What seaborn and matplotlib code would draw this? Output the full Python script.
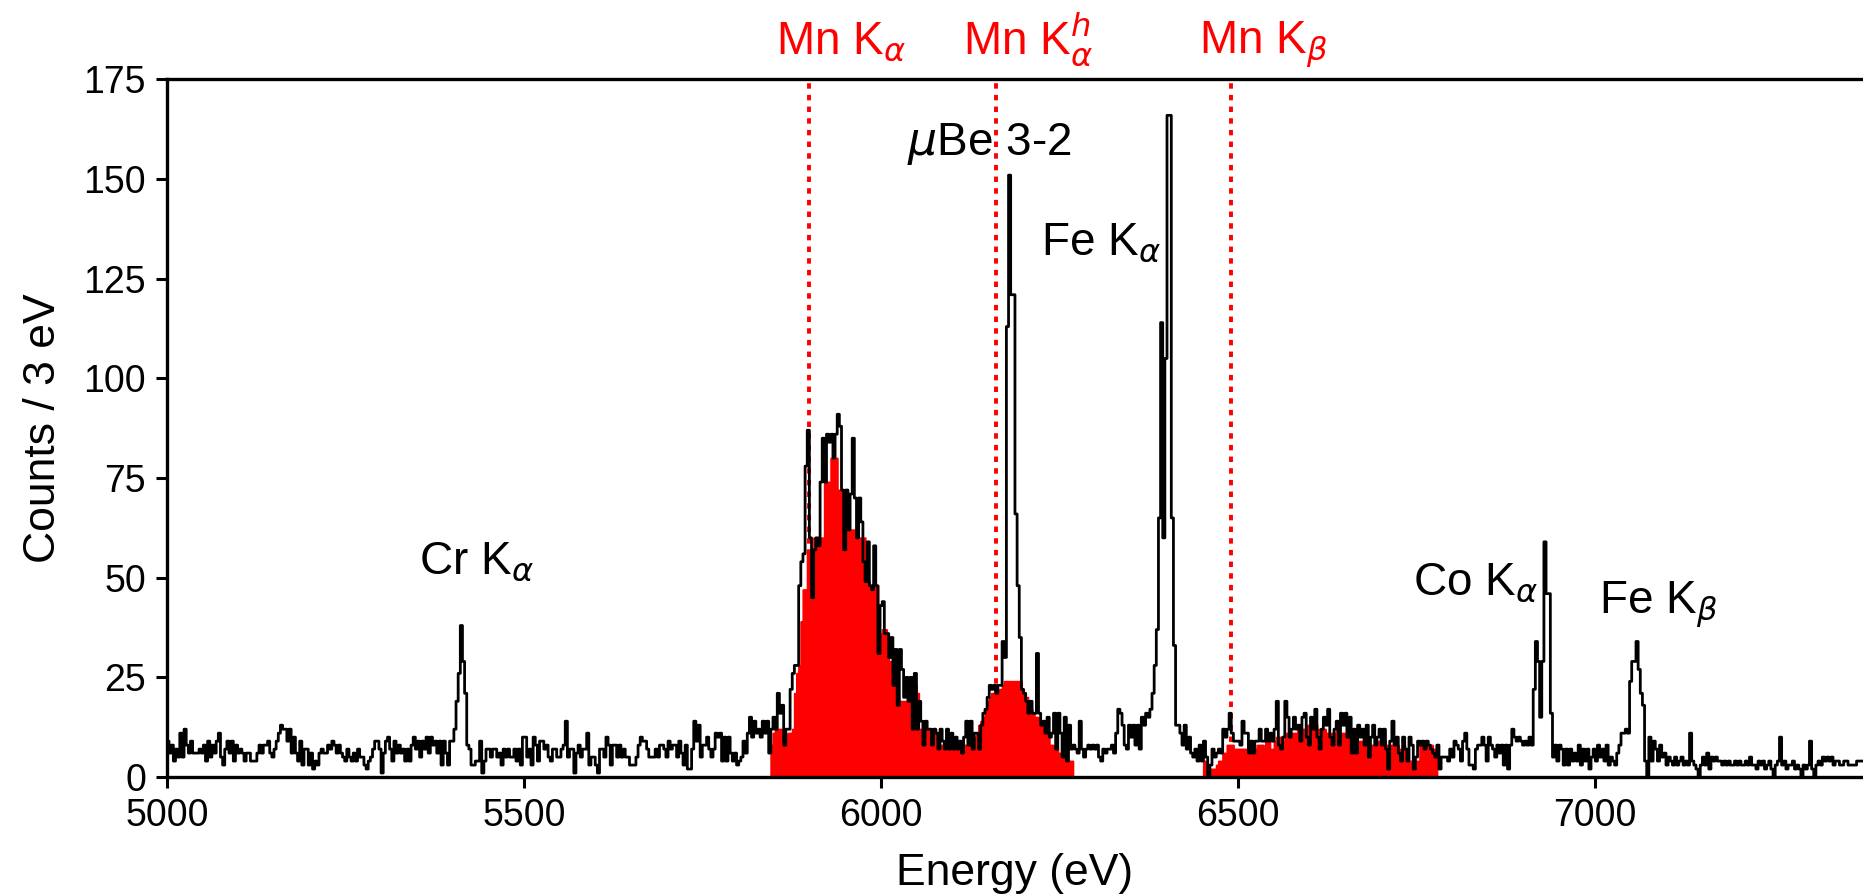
import numpy as np
import pandas as pd
import matplotlib
matplotlib.use("Agg")
import matplotlib.pyplot as plt
import seaborn as sns

# ---------------------------------------------------------------------------
# Spectrum: counts in 3 eV bins starting at 5000 eV (each row = 30 eV)
# ---------------------------------------------------------------------------
BIN_WIDTH = 3.0
E_START = 5000.0

counts_5000_5300 = [
    9, 6, 8, 4, 7, 5, 11, 5, 12, 8,
    6, 9, 6, 6, 6, 7, 6, 8, 4, 9,
    5, 8, 6, 9, 11, 5, 3, 7, 9, 6,
    9, 4, 8, 6, 7, 6, 4, 6, 6, 4,
    4, 4, 6, 8, 6, 8, 8, 9, 6, 5,
    7, 9, 11, 13, 12, 12, 9, 12, 6, 10,
    6, 4, 9, 3, 7, 7, 3, 6, 2, 4,
    3, 6, 7, 6, 6, 8, 7, 9, 8, 6,
    8, 6, 5, 4, 7, 5, 4, 6, 4, 7,
    5, 5, 3, 2, 4, 5, 7, 9, 9, 7,
]
counts_5300_5600 = [
    1, 6, 9, 10, 7, 4, 9, 6, 8, 6,
    7, 4, 7, 4, 8, 10, 7, 9, 5, 9,
    7, 10, 6, 10, 8, 9, 6, 9, 3, 9,
    6, 3, 9, 9, 12, 19, 26, 38, 29, 21,
    8, 7, 3, 3, 4, 4, 9, 1, 4, 7,
    7, 5, 7, 7, 5, 6, 3, 7, 5, 7,
    5, 5, 7, 4, 7, 3, 10, 10, 5, 7,
    3, 10, 8, 4, 9, 9, 7, 8, 5, 4,
    7, 7, 5, 5, 7, 8, 14, 5, 7, 7,
    1, 6, 8, 5, 7, 7, 11, 3, 5, 5,
]
counts_5600_5900 = [
    3, 1, 7, 7, 5, 10, 8, 3, 8, 8,
    5, 8, 5, 7, 5, 5, 3, 3, 3, 5,
    8, 10, 9, 9, 7, 5, 5, 5, 7, 5,
    8, 8, 7, 5, 9, 7, 8, 8, 5, 9,
    6, 3, 8, 2, 2, 7, 14, 9, 13, 5,
    8, 8, 10, 7, 5, 7, 11, 10, 11, 4,
    10, 4, 10, 6, 4, 6, 3, 4, 5, 9,
    6, 11, 15, 10, 14, 11, 12, 10, 14, 11,
    14, 6, 12, 15, 12, 21, 16, 18, 8, 12,
    12, 22, 26, 28, 28, 48, 54, 56, 78, 87,
]
counts_5900_6200 = [
    60, 45, 57, 60, 58, 74, 85, 74, 86, 84,
    86, 80, 86, 91, 88, 72, 57, 72, 62, 71,
    85, 70, 60, 70, 64, 54, 49, 59, 48, 47,
    58, 48, 31, 43, 44, 36, 36, 30, 35, 23,
    32, 18, 32, 27, 20, 25, 19, 25, 12, 26,
    12, 19, 14, 8, 14, 12, 12, 8, 12, 11,
    7, 12, 9, 7, 12, 7, 11, 7, 10, 7,
    9, 6, 10, 14, 8, 14, 7, 11, 11, 7,
    13, 16, 17, 20, 23, 22, 23, 21, 23, 23,
    34, 30, 113, 151, 121, 121, 66, 48, 35, 22,
]
counts_6200_6500 = [
    21, 19, 16, 19, 16, 16, 31, 16, 13, 14,
    11, 15, 10, 11, 16, 7, 16, 11, 5, 15,
    4, 13, 7, 8, 7, 6, 14, 7, 5, 7,
    8, 7, 8, 7, 8, 5, 4, 7, 6, 7,
    7, 8, 6, 11, 17, 16, 13, 8, 7, 13,
    10, 13, 8, 13, 7, 15, 13, 16, 15, 17,
    21, 28, 37, 65, 114, 60, 105, 166, 166, 65,
    33, 13, 13, 11, 8, 13, 7, 10, 6, 5,
    7, 4, 8, 4, 9, 5, 0, 3, 7, 5,
    6, 7, 6, 12, 10, 12, 16, 11, 9, 9,
]
counts_6500_6800 = [
    9, 8, 14, 11, 11, 6, 9, 6, 9, 9,
    12, 9, 9, 12, 9, 11, 9, 12, 19, 8,
    7, 10, 19, 15, 10, 12, 15, 12, 13, 9,
    15, 16, 10, 8, 15, 12, 17, 10, 7, 12,
    15, 13, 17, 10, 8, 12, 14, 8, 16, 13,
    16, 10, 15, 6, 12, 6, 13, 10, 12, 8,
    13, 5, 10, 13, 8, 10, 12, 8, 12, 7,
    2, 9, 14, 8, 10, 6, 4, 10, 7, 4,
    10, 8, 2, 5, 9, 8, 9, 7, 9, 8,
    7, 6, 5, 8, 2, 5, 5, 5, 4, 7,
]
counts_6800_7100 = [
    5, 9, 8, 7, 4, 9, 11, 7, 3, 3,
    2, 7, 8, 8, 10, 8, 4, 10, 8, 7,
    5, 8, 6, 8, 3, 8, 2, 8, 12, 10,
    9, 10, 9, 8, 9, 8, 10, 8, 22, 34,
    29, 15, 29, 59, 46, 46, 16, 5, 8, 4,
    8, 7, 3, 7, 3, 7, 4, 6, 4, 8,
    3, 7, 4, 7, 2, 5, 7, 4, 8, 5,
    7, 4, 8, 3, 5, 4, 3, 6, 8, 11,
    11, 12, 11, 24, 29, 29, 34, 27, 21, 18,
    4, 0, 10, 4, 9, 7, 4, 8, 5, 6,
]
counts_7100_7385 = [
    3, 5, 4, 3, 5, 3, 4, 5, 3, 4,
    3, 11, 4, 3, 2, 0, 3, 5, 3, 6,
    2, 5, 4, 5, 4, 4, 3, 4, 3, 4,
    3, 3, 4, 3, 4, 3, 3, 4, 3, 5,
    3, 3, 2, 4, 3, 4, 2, 3, 4, 2,
    0, 3, 4, 10, 3, 4, 2, 3, 3, 4,
    2, 3, 2, 0, 3, 2, 3, 9, 2, 0,
    3, 4, 3, 5, 4, 5, 4, 5, 3, 4,
    4, 3, 3, 4, 4, 3, 3, 3, 3, 4,
    4, 4, 4, 3, 4,
]

# ---------------------------------------------------------------------------
# Mn-line selection (red), 3 eV bins starting at 5846 eV
# ---------------------------------------------------------------------------
MN_START = 5846.0

mn_counts_kalpha = [
    8, 11, 12, 12, 12, 11, 11, 10, 11, 11,
    12, 21, 26, 28, 39, 47, 47, 57, 57, 57,
    60, 60, 60, 60, 60, 74, 74, 74, 80, 80,
    80, 72, 72, 72, 64, 64, 62, 62, 62, 60,
    60, 60, 60, 60, 49, 49, 48, 48, 48, 48,
    36, 36, 37, 37, 36, 29, 29, 29, 28, 19,
    19, 19, 19, 19, 19, 23, 23, 23, 21, 12,
    12, 12, 12, 12, 12, 12, 12, 11, 8, 8,
    8, 8, 8, 8, 8, 8, 8, 8, 8, 8,
    8, 8, 8,
]
mn_counts_kalpha_h = [
    7, 7, 10, 11, 13, 14, 15, 17, 19, 20,
    21, 21, 22, 22, 22, 23, 24, 24, 24, 24,
    24, 24, 24, 24, 22, 20, 20, 19, 17, 16,
    15, 15, 14, 13, 12, 11, 10, 8, 8, 7,
    7, 6, 5, 5, 4, 4, 4, 4,
]
mn_counts_fe_gap = [
    0, 0, 0, 0, 0, 0, 0, 0, 0, 0,
    0, 0, 0, 0, 0, 0, 0, 0, 0, 0,
    0, 0, 0, 0, 0, 0, 0, 0, 0, 0,
    0, 0, 0, 0, 0, 0, 0, 0, 0, 0,
    0, 0, 0, 0, 0, 0, 0, 0, 0, 0,
    0, 0, 0, 0, 0, 0, 0, 0, 0, 0,
    0,
]
mn_counts_kbeta = [
    4, 2, 2, 2, 2, 2, 3, 4, 4, 6,
    6, 8, 8, 8, 7, 7, 7, 7, 7, 7,
    7, 6, 6, 6, 7, 8, 8, 8, 7, 9,
    9, 7, 7, 9, 10, 10, 9, 9, 11, 11,
    10, 11, 11, 11, 12, 12, 12, 12, 13, 13,
    13, 13, 13, 12, 11, 12, 12, 11, 11, 11,
    11, 11, 12, 11, 11, 11, 11, 11, 11, 9,
    9, 9, 9, 9, 9, 8, 8, 4, 8, 8,
    8, 9, 9, 9, 9, 8, 2, 8, 8, 8,
    8, 7, 4, 8, 4, 4, 4, 4, 2, 4,
    4, 8, 8, 8, 8, 8, 8, 7, 7,
]

# Reference lines (red, dotted) and their labels above the frame
mn_line_labels = [r"Mn K$_\alpha$", r"Mn K$_\alpha^h$", r"Mn K$_\beta$"]
mn_line_energies = [5899, 6162, 6490]

# Peak annotations
peak_labels = [r"Cr K$_\alpha$", r"$\mu$Be 3-2", r"Fe K$_\alpha$",
               r"Co K$_\alpha$", r"Fe K$_\beta$"]

# ---------------------------------------------------------------------------
sns.set_style("ticks")
plt.rcParams["font.family"] = ["Liberation Sans", "DejaVu Sans"]
plt.rcParams["mathtext.fontset"] = "dejavusans"
plt.rcParams["text.color"] = "black"
plt.rcParams["axes.labelcolor"] = "black"
plt.rcParams["xtick.color"] = "black"
plt.rcParams["ytick.color"] = "black"

counts = np.concatenate([counts_5000_5300, counts_5300_5600, counts_5600_5900,
                         counts_5900_6200, counts_6200_6500, counts_6500_6800,
                         counts_6800_7100, counts_7100_7385]).astype(float)
n_bins = len(counts)
spectrum = pd.DataFrame({
    "energy": E_START + BIN_WIDTH * (np.arange(n_bins) + 0.5),
    "counts": counts,
})

mn_counts = np.concatenate([mn_counts_kalpha, mn_counts_kalpha_h,
                            mn_counts_fe_gap, mn_counts_kbeta]).astype(float)
n_mn = len(mn_counts)
mn_spectrum = pd.DataFrame({
    "energy": MN_START + BIN_WIDTH * (np.arange(n_mn) + 0.5),
    "counts": mn_counts,
})

fig = plt.figure(figsize=(18.63, 8.96), dpi=100)
ax = fig.add_axes([0.0896, 0.1328, 0.9104, 0.7785])

for e in mn_line_energies:
    ax.axvline(e, color="red", linestyle=(0, (1.4, 1.6)), linewidth=2.8, zorder=1)

sns.histplot(data=mn_spectrum, x="energy", weights="counts",
             binwidth=BIN_WIDTH, binrange=(MN_START, MN_START + BIN_WIDTH * n_mn),
             element="step", fill=True, color="red", alpha=1,
             edgecolor="red", linewidth=1.5, ax=ax, zorder=2)
sns.histplot(data=spectrum, x="energy", weights="counts",
             binwidth=BIN_WIDTH, binrange=(E_START, E_START + BIN_WIDTH * n_bins),
             element="step", fill=False, color="black", linewidth=2.0,
             ax=ax, zorder=3)

ax.set_xlim(5000, 7376)
ax.set_ylim(0, 175)
ax.set_xticks([5000, 5500, 6000, 6500, 7000])
ax.set_yticks(np.arange(0, 176, 25))

ax.set_xlabel("Energy (eV)", fontsize=32, labelpad=14, color="black")
ax.set_ylabel("Counts / 3 eV", fontsize=32, labelpad=14, color="black")

ax.spines["right"].set_visible(False)
for side in ["top", "left", "bottom"]:
    ax.spines[side].set_linewidth(2.4)
    ax.spines[side].set_color("black")
ax.tick_params(axis="both", direction="out", length=8, width=2.2,
               labelsize=27, pad=7, colors="black", top=False, right=False)

# labels of the Mn reference lines, above the frame
mn_label_x = [5945, 6207, 6536]
for lab, x in zip(mn_line_labels, mn_label_x):
    ax.text(x, 181.4, lab, color="red", fontsize=33, ha="center",
            va="baseline", clip_on=False)

# peak annotations
peak_x = [5433, 6152, 6308, 6833, 7089]
peak_y = [51, 156, 131, 45.7, 41]
for lab, x, y in zip(peak_labels, peak_x, peak_y):
    ax.text(x, y, lab, color="black", fontsize=33, ha="center", va="baseline")

fig.savefig("out.png", dpi=100)
